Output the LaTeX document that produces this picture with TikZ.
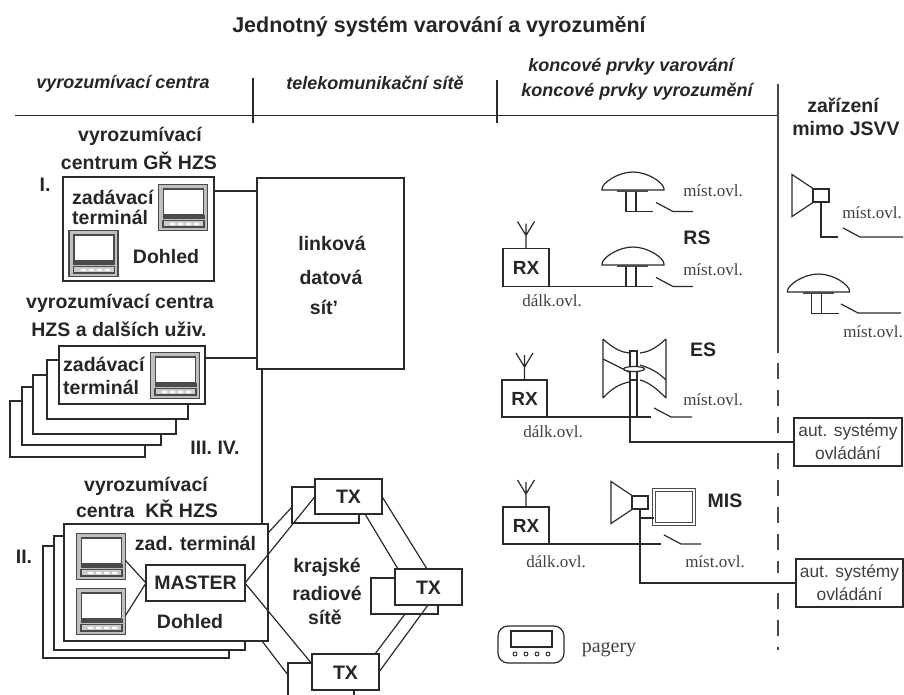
\documentclass[tikz,border=0pt]{standalone}
\usepackage{fontspec}
\setmainfont{Liberation Sans}
\newfontfamily\ovlfont{Liberation Serif}
\usetikzlibrary{calc}
\definecolor{LineDark}{HTML}{2A2A2A}
\definecolor{MonitorGray}{HTML}{4A4A4A}
\tikzset{
  blk/.style={draw=LineDark,line width=1.3pt,fill=white,inner sep=0pt,outer sep=0pt},
  lab/.style={inner sep=0pt,text=black!85,font=\fontsize{19.5}{22}\selectfont\bfseries},
  rxbox/.style={blk,text=black!85,font=\fontsize{19}{22}\selectfont\bfseries},
  headtxt/.style={inner sep=0pt,text=black!85,font=\fontsize{18}{20}\selectfont\bfseries\itshape},
  ovltxt/.style={inner sep=0pt,text=black!75,font=\fontsize{17}{19}\selectfont\ovlfont},
  auttxt/.style={inner sep=0pt,text=black!75,font=\fontsize{17.4}{20}\selectfont},
  pics/monitor/.style={code={
    \draw[MonitorGray,line width=1.5pt,fill=black!25] (-24.5,-23) rectangle (24.5,23);
    \draw[MonitorGray,line width=1.8pt,fill=white] (-19.5,-18.5) rectangle (20.5,7);
    \fill[MonitorGray] (-20.5,7) rectangle (21.5,11);
    \draw[MonitorGray,line width=1.2pt,fill=black!20] (-20,13) rectangle (21,19.5);
    \foreach \px in {-13,-5,3,11} \fill[white] (\px,15) rectangle ++(5,2.5);
    \coordinate (-e) at (24.5,4);
  }},
  pics/dome/.style={code={
    \draw[LineDark,line width=1.2pt,fill=white] (-31,-1) .. controls (-31,-7) and (-15,-18) .. (0,-18)
      .. controls (15,-18) and (31,-7) .. (31,-1) -- (31,0) -- (-31,0) -- cycle;
    \draw[MonitorGray,line width=1.8pt] (-16,1) -- (15,1);
    \draw[LineDark,line width=1.2pt] (-7,2) -- (-7,21.5) (3,2) -- (3,21.5) (-7,21.5) -- (20,21.5);
  }},
  pics/contact/.style={code={
    \draw[LineDark,line width=1.2pt] (3,-9) -- (20,0) -- (#1,0);
  }},
  pics/horn/.style={code={
    \draw[LineDark,line width=1.2pt,fill=white] (-29,-21) -- (-8,-7) -- (-8,7) -- (-29,21) -- cycle;
    \draw[LineDark,line width=1.2pt,fill=white] (-8,-6.5) rectangle (8,6.5);
    \coordinate (-s) at (0,6.5);
  }},
  pics/antenna/.style={code={
    \draw[LineDark,line width=1.2pt] (0,0) -- (0,-17) (-8.5,-27) -- (0,-13) -- (8.5,-27) (0,-17) -- (0,-25);
  }},
}

\begin{document}
\begin{tikzpicture}[x=1pt,y=-1pt]
  \useasboundingbox (0,0) rectangle (904,695);
  % header
  \node[lab,font=\fontsize{21.5}{24}\selectfont\bfseries] (title) at (439,27) {Jednotný systém varování a vyrozumění};
  \node[headtxt] (headA) at (123,84) {vyrozumívací centra};
  \node[headtxt] (headB) at (375,83) {telekomunikační sítě};
  \node[headtxt] (headC) at (631,67) {koncové prvky varování};
  \node[headtxt] (headD) at (637,92) {koncové prvky vyrozumění};
  \node[lab] (headE) at (843,105) {zařízení};
  \node[lab] (headF) at (846,129) {mimo JSVV};
  \draw[LineDark,line width=1.6pt] (15,115.5) -- (778,115.5);
  \draw[LineDark,line width=1.2pt] (253,78) -- (253,123);
  \draw[LineDark,line width=1.2pt] (497,80) -- (497,123);
  \draw[MonitorGray,line width=1.6pt] (778,84) -- (778,353);
  \foreach \ya/\yb in {363/433,453/573,593/650}
    \draw[MonitorGray,line width=1.6pt,dash pattern=on 16pt off 11pt] (778,\ya) -- (778,\yb);

  % centrum I
  \node[lab] (capIa) at (140,136) {vyrozumívací};
  \node[lab] (capIb) at (139,161) {centrum GŘ HZS};
  \node[lab] (romI) at (45,185) {I.};
  \node[blk,minimum width=151,minimum height=104] (boxI) at (138.5,229) {};
  \pic (monA) at (183,207.5) {monitor};
  \pic (monB) at (93.5,253.5) {monitor};
  \node[lab,anchor=west] (zadI) at (72,197) {zadávací};
  \node[lab,anchor=west] (termI) at (72,217) {terminál};
  \node[lab] (dohI) at (166,257) {Dohled};

  % linkova sit
  \node[blk,minimum width=147,minimum height=191] (linka) at (330.5,273.5) {};
  \node[lab] (linkA) at (332,243) {linková};
  \node[lab] (linkB) at (331,277) {datová};
  \node[lab] (linkC) at (324,307) {sít'};
  \draw[LineDark,line width=1.3pt] (boxI.east |- 0,191) -- (linka.west |- 0,191);

  % centra III. IV.
  \node[lab] (capIIIa) at (120,303) {vyrozumívací centra};
  \node[lab] (capIIIb) at (119,329) {HZS a dalších uživ.};
  \foreach \xa/\ya/\xb/\yb in {10/401/145/457,22/387/161/445,33/375/176/434,47/360/188/419}
    \draw[LineDark,line width=1.3pt,fill=white] (\xa,\ya) rectangle (\xb,\yb);
  \node[blk,minimum width=146,minimum height=58] (boxIII) at (132,375) {};
  \pic (monC) at (175,375.5) {monitor};
  \node[lab,anchor=west] (zadIII) at (63,364) {zadávací};
  \node[lab,anchor=west] (termIII) at (63,387) {terminál};
  \node[lab] (romIII) at (215,448) {III. IV.};
  \draw[LineDark,line width=1.3pt] (boxIII.east |- 0,358) -- (linka.west |- 0,358);

  % centra II
  \node[lab] (capIIa) at (146,486) {vyrozumívací};
  \node[lab] (capIIb) at (147,509) {centra\ \ KŘ HZS};
  \node[lab] (romII) at (24,557) {II.};
  \draw[LineDark,line width=1.3pt,fill=white] (43,546) rectangle (229,658);
  \draw[LineDark,line width=1.3pt,fill=white] (54,536) rectangle (245,650);
  \node[blk,minimum width=204,minimum height=117] (boxII) at (166,582.5) {};
  \draw[LineDark,line width=1.3pt] (262,0 |- linka.south) -- (262,0 |- boxII.north);
  \pic (monD) at (101,556.5) {monitor};
  \pic (monE) at (101,611.5) {monitor};
  \node[blk,minimum width=99,minimum height=36] (master) at (195.5,583) {};
  \node[lab] (masterTxt) at (195.5,583) {MASTER};
  \node[lab] (zadII) at (195.5,543) {zad. terminál};
  \node[lab] (dohII) at (190,622) {Dohled};
  \draw[LineDark,line width=1.2pt] (monD-e) -- (master.west) (monE-e) -- (master.west);

  % krajske radiove site
  \node[blk,minimum width=67,minimum height=36] (txAback) at (325.5,505) {};
  \node[blk,minimum width=67,minimum height=35] (txA) at (348.5,496.5) {};
  \node[lab] (txAtxt) at (348.5,497) {TX};
  \node[blk,minimum width=67,minimum height=36] (txBback) at (404.5,596) {};
  \node[blk,minimum width=67,minimum height=36] (txB) at (428.5,587) {};
  \node[lab] (txBtxt) at (428.5,588) {TX};
  \coordinate (txCback) at (288,675);
  \draw[LineDark,line width=1.3pt] (288,695) |- (312,663);
  \node[blk,minimum width=67,minimum height=36] (txC) at (345.5,672) {};
  \node[lab] (txCtxt) at (345.5,673) {TX};
  \draw[LineDark,line width=1.2pt] (354,690) -- (354,695);
  \node[lab] (krajA) at (327,567) {krajské};
  \node[lab] (krajB) at (327,593) {radiové};
  \node[lab] (krajC) at (325,617) {sítě};
  \draw[LineDark,line width=1.2pt] (boxII.east |- 0,533) -- (txAback.west |- 0,507);
  \draw[LineDark,line width=1.2pt] (master.east) -- (txA.west);
  \draw[LineDark,line width=1.2pt] (master.east) -- (txC.west |- 0,664);
  \draw[LineDark,line width=1.2pt] (262,641) -- (txCback);
  \draw[LineDark,line width=1.2pt] (txA.east) -- (427,0 |- txB.north);
  \draw[LineDark,line width=1.2pt] (365,0 |- txA.south) -- (398,0 |- txB.north);
  \draw[LineDark,line width=1.2pt] (428,0 |- txB.south) -- (txC.east);
  \draw[LineDark,line width=1.2pt] (405,0 |- txBback.south) -- (375,0 |- txC.north);

  % sirena RS
  \pic (domeA) at (633,190) {dome};
  \pic (conA) at (653,211.5) {contact=40};
  \node[ovltxt] (ovlA) at (713,191) {míst.ovl.};
  \node[rxbox,minimum width=46,minimum height=38] (rxA) at (526,267.5) {RX};
  \pic at (rxA.north) {antenna};
  \pic (domeB) at (633,265) {dome};
  \pic (conB) at (653,286.5) {contact=40};
  \coordinate (jointA) at (653,286.5);
  \draw[LineDark,line width=1.2pt] (rxA.south east) -- (jointA);
  \node[ovltxt] (ovlB) at (713,270) {míst.ovl.};
  \node[ovltxt] (dalkA) at (552,301) {dálk.ovl.};
  \node[lab] (rsTxt) at (697,238) {RS};

  % sirena ES
  \draw[LineDark,line width=1.2pt] (603,339) .. controls (615,350) and (622,352) .. (629,353)
    (603,359) -- (629,372)
    (603,398) .. controls (612,388) and (620,384) .. (629,382)
    (603,339) -- (603,398);
  \draw[LineDark,line width=1.2pt] (666,339) .. controls (654,350) and (647,352) .. (640,353)
    (666,380) .. controls (658,372) and (650,368) .. (640,365)
    (666,398) .. controls (656,388) and (648,382) .. (640,380)
    (666,339) -- (666,398);
  \draw[LineDark,line width=1.2pt] (630,351) rectangle (637,380);
  \draw[LineDark,line width=1.2pt,fill=white] (634,369) ellipse (10.5 and 2.5);
  \draw[LineDark,line width=1.2pt] (637,380) -- (637,417);
  \node[rxbox,minimum width=45,minimum height=37] (rxB) at (524.5,398.5) {RX};
  \pic at (rxB.north) {antenna};
  \pic (conC) at (651,417) {contact=41};
  \coordinate (jointB) at (651,417);
  \draw[LineDark,line width=1.2pt] (rxB.south east) -- (jointB);
  \node[ovltxt] (ovlC) at (713,400) {míst.ovl.};
  \node[ovltxt] (dalkB) at (553,432) {dálk.ovl.};
  \node[lab] (esTxt) at (703,350) {ES};
  \node[blk,minimum width=108,minimum height=48] (autA) at (848,442) {};
  \node[auttxt] (autAa) at (848,432) {aut. systémy};
  \node[auttxt] (autAb) at (848,453) {ovládání};
  \coordinate (esPost) at (630,380);
  \draw[LineDark,line width=1.2pt] (esPost) |- (autA.west);

  % MIS
  \node[rxbox,minimum width=46,minimum height=37] (rxC) at (526,525.5) {RX};
  \pic at (rxC.north) {antenna};
  \pic (hornA) at (640,502.5) {horn};
  \node[blk,draw=MonitorGray,minimum width=40,minimum height=34,double,double distance=1.4pt] (monF) at (674,507) {};
  \draw[LineDark,line width=1.2pt] (hornA-s) |- (monF.west |- 0,518);
  \pic (conD) at (661,544) {contact=40};
  \coordinate (jointC) at (661,544);
  \draw[LineDark,line width=1.2pt] (rxC.south east) -- (jointC);
  \node[ovltxt] (dalkC) at (556,562) {dálk.ovl.};
  \node[ovltxt] (ovlD) at (715,562) {míst.ovl.};
  \node[lab] (misTxt) at (725,501) {MIS};
  \node[blk,minimum width=107,minimum height=48] (autB) at (849.5,583) {};
  \node[auttxt] (autBa) at (849.5,573) {aut. systémy};
  \node[auttxt] (autBb) at (849.5,594) {ovládání};
  \draw[LineDark,line width=1.2pt] (hornA-s) |- (autB.west);

  % pager
  \node[draw=LineDark,line width=1.2pt,rounded corners=10pt,minimum width=66,minimum height=37,inner sep=0pt] (pager) at (531,644.5) {};
  \node[draw=LineDark,line width=1.2pt,minimum width=41,minimum height=16,inner sep=0pt] (pagerScr) at (531.5,639) {};
  \foreach \px in {515,526,537,548} \draw[LineDark,line width=.9pt] (\px,654) circle (2pt);
  \node[ovltxt,font=\fontsize{20}{22}\selectfont\ovlfont] (pagerTxt) at (609,650) {pagery};

  % zarizeni mimo JSVV
  \pic (hornB) at (821,195.5) {horn};
  \coordinate (hornBend) at (838,237);
  \draw[LineDark,line width=1.2pt] (hornB-s) |- (hornBend);
  \pic (conE) at (840,237) {contact=63};
  \node[ovltxt] (ovlE) at (872,213) {míst.ovl.};
  \pic (domeC) at (818.5,292) {dome};
  \pic (conF) at (838,313) {contact=63};
  \node[ovltxt] (ovlF) at (873,332) {míst.ovl.};
\end{tikzpicture}
\end{document}
